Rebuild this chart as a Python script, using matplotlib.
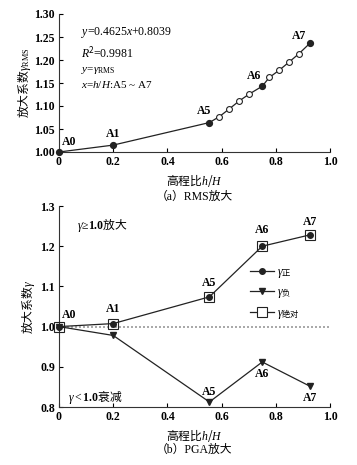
import matplotlib
matplotlib.use("Agg")
import matplotlib.pyplot as plt
from matplotlib.lines import Line2D

plt.rcParams['font.family'] = ['Liberation Serif', 'Noto Sans CJK SC', 'DejaVu Sans']
plt.rcParams['mathtext.fontset'] = 'custom'
plt.rcParams['mathtext.it'] = 'Liberation Serif:italic'
plt.rcParams['mathtext.rm'] = 'Noto Sans CJK SC'
plt.rcParams['mathtext.sf'] = 'Liberation Serif'
plt.rcParams['mathtext.bf'] = 'Liberation Serif:bold'
plt.rcParams['mathtext.fallback'] = 'stix'

# ---- data (a) RMS ----
rms_key_x = [0.0, 0.2, 0.555, 0.75, 0.925]
rms_key_y = [1.000, 1.015, 1.064, 1.143, 1.236]
rms_key_lbl = ['A0', 'A1', 'A5', 'A6', 'A7']
rms_mid_x = [0.592, 0.629, 0.665, 0.702, 0.776, 0.813, 0.850, 0.886]
rms_mid_y = [1.077, 1.094, 1.111, 1.126, 1.162, 1.178, 1.196, 1.214]

# ---- data (b) PGA ----
pga_x = [0.0, 0.2, 0.555, 0.75, 0.925]
pga_lbl = ['A0', 'A1', 'A5', 'A6', 'A7']
gamma_pos = [1.000, 1.0075, 1.074, 1.200, 1.228]
gamma_neg = [1.000, 0.978, 0.8125, 0.912, 0.852]
gamma_abs = [1.000, 1.0075, 1.074, 1.200, 1.228]

FS = 8.5
W, H = 357, 465
fig = plt.figure(figsize=(W/100, H/100), dpi=100)

def style(ax):
    for s in ['top', 'right']:
        ax.spines[s].set_visible(False)
    for s in ['left', 'bottom']:
        ax.spines[s].set_linewidth(0.8)
        ax.spines[s].set_color('#333333')
    ax.tick_params(direction='in', length=3, width=0.8, labelsize=FS, pad=3)
    for t in ax.get_xticklabels() + ax.get_yticklabels():
        t.set_fontweight('bold')

# ---------- (a) ----------
ax1 = fig.add_axes([59/W, 1-152/H, 271/W, 138/H])
all_pts = sorted(zip(rms_key_x + rms_mid_x, rms_key_y + rms_mid_y))
ax1.plot([p[0] for p in all_pts], [p[1] for p in all_pts], color='#222222', lw=0.9, zorder=2)
ax1.plot(rms_mid_x, rms_mid_y, 'o', ms=4.2, mfc='white', mec='#222222', mew=0.8, zorder=3)
ax1.plot(rms_key_x, rms_key_y, 'o', ms=4.2, color='#222222', zorder=4, clip_on=False)
ax1.set_xlim(0, 1.0)
ax1.set_ylim(1.0, 1.30)
ax1.set_xticks([0, 0.2, 0.4, 0.6, 0.8, 1.0])
ax1.set_xticklabels(['0', '0.2', '0.4', '0.6', '0.8', '1.0'])
ax1.set_yticks([1.00, 1.05, 1.10, 1.15, 1.20, 1.25, 1.30])
ax1.set_yticklabels(['%.2f' % v for v in [1.00, 1.05, 1.10, 1.15, 1.20, 1.25, 1.30]])
style(ax1)
offs1 = [(7, 3), (0, 4), (-4, 4), (-6, 3), (-8, 1)]
for x, y, l, o in zip(rms_key_x, rms_key_y, rms_key_lbl, offs1):
    ax1.annotate(l, (x, y), xytext=o, textcoords='offset points', ha='center',
                 va='bottom', fontsize=FS, fontweight='bold')
tx = (81-59)/271
ax1.text(tx, (152-33)/138, r'$y$=0.4625$x$+0.8039', transform=ax1.transAxes, fontsize=FS, va='center')
ax1.text(tx, (152-52)/138, r'$R$$^2$=0.9981', transform=ax1.transAxes, fontsize=FS, va='center')
ax1.text(tx, (152-71)/138, r'$y$=$\gamma_{\mathsf{RMS}}$', transform=ax1.transAxes, fontsize=FS-0.5, va='center')
ax1.text(tx, (152-84)/138, r'$x$=$h$/$H$:A5 ~ A7', transform=ax1.transAxes, fontsize=FS-0.5, va='center')
ax1.set_ylabel(r'$\mathrm{放大系数}\gamma_{\mathsf{RMS}}$', fontsize=FS, labelpad=1)
ax1.set_xlabel(r'$\mathrm{高程比}h/H$', fontsize=FS, labelpad=3)
fig.text((59+330)/2/W, 1-197/H, '（a）RMS放大', ha='center', va='center', fontsize=FS)

# ---------- (b) ----------
ax2 = fig.add_axes([59/W, 1-407/H, 271/W, 201/H])
ax2.plot([0, 1.0], [1.0, 1.0], linestyle=(0, (1.2, 1.2)), color='#999999', lw=1.2, zorder=1)
ax2.plot(pga_x, gamma_pos, '-o', color='#222222', lw=0.9, ms=4, zorder=3, clip_on=False)
ax2.plot(pga_x, gamma_neg, '-v', color='#222222', lw=0.9, ms=4.5, zorder=3, clip_on=False)
ax2.plot(pga_x, gamma_abs, 's', mfc='none', mec='#222222', mew=0.8, ms=6.5, zorder=4, clip_on=False)
ax2.set_xlim(0, 1.0)
ax2.set_ylim(0.8, 1.3)
ax2.set_xticks([0, 0.2, 0.4, 0.6, 0.8, 1.0])
ax2.set_xticklabels(['0', '0.2', '0.4', '0.6', '0.8', '1.0'])
ax2.set_yticks([0.8, 0.9, 1.0, 1.1, 1.2, 1.3])
ax2.set_yticklabels(['0.8', '0.9', '1.0', '1.1', '1.2', '1.3'])
style(ax2)
offs_pos = [(7, 4), (0, 6), (0, 6), (0, 7), (0, 5)]
for x, y, l, o in zip(pga_x, gamma_pos, pga_lbl, offs_pos):
    ax2.annotate(l, (x, y), xytext=o, textcoords='offset points', ha='center',
                 va='bottom', fontsize=FS, fontweight='bold')
vas = ['bottom', 'top', 'top']
for x, y, l, o, va in zip(pga_x[2:], gamma_neg[2:], pga_lbl[2:], [(0, 3), (0, -4), (0, -4)], vas):
    ax2.annotate(l, (x, y), xytext=o, textcoords='offset points', ha='center',
                 va=va, fontsize=FS, fontweight='bold')
ax2.text((77-59)/271, (407-225)/201, r'$\gamma\mathsf{≥}\mathbf{1.0}\mathrm{放大}$', transform=ax2.transAxes,
         fontsize=FS, va='center')
ax2.text((68-59)/271, (407-397)/201, r'$\gamma\mathsf{<}\mathbf{1.0}\mathrm{衰减}$', transform=ax2.transAxes,
         fontsize=FS, va='center')
handles = [Line2D([], [], color='#222222', lw=0.9, marker='o', ms=4),
           Line2D([], [], color='#222222', lw=0.9, marker='v', ms=4.5),
           Line2D([], [], color='#222222', lw=0.9, marker='s', ms=6.5, mfc='white', mew=0.8)]
labels = [r'$\gamma_{\mathrm{正}}$', r'$\gamma_{\mathrm{负}}$', r'$\gamma_{\mathrm{绝对}}$']
ax2.legend(handles, labels, loc='upper left', bbox_to_anchor=((250-59)/271, (407-266)/201),
           frameon=False, fontsize=FS, handlelength=2.0, handletextpad=0.3,
           labelspacing=0.55, borderpad=0, borderaxespad=0)
ax2.set_ylabel(r'$\mathrm{放大系数}\gamma$', fontsize=FS, labelpad=2)
ax2.set_xlabel(r'$\mathrm{高程比}h/H$', fontsize=FS, labelpad=3)
fig.text((59+330)/2/W, 1-450/H, '（b）PGA放大', ha='center', va='center', fontsize=FS)

fig.savefig('out.png', dpi=100)
